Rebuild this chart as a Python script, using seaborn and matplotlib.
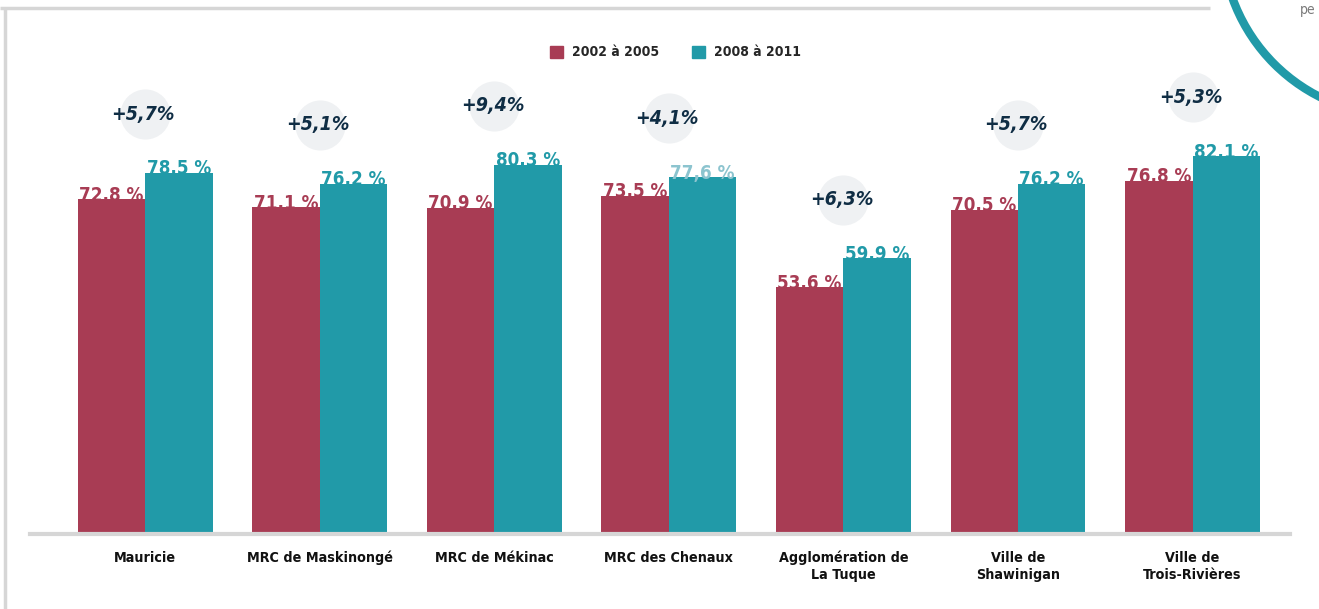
import numpy as np
import pandas as pd
import seaborn as sns
import matplotlib.pyplot as plt
from matplotlib.patches import Patch, Circle

# data
regions = ["Mauricie", "MRC de Maskinongé", "MRC de Mékinac", "MRC des Chenaux",
           "Agglomération de\nLa Tuque", "Ville de\nShawinigan", "Ville de\nTrois-Rivières"]
periods = ["2002 à 2005", "2008 à 2011"]
rate_2002_2005 = [72.8, 71.1, 70.9, 73.5, 53.6, 70.5, 76.8]
rate_2008_2011 = [78.5, 76.2, 80.3, 77.6, 59.9, 76.2, 82.1]
changes = ["+5,7%", "+5,1%", "+9,4%", "+4,1%", "+6,3%", "+5,7%", "+5,3%"]

red = "#a83c54"
teal = "#219aa8"
navy = "#0f2d44"

df = pd.DataFrame({
    "region": regions * 2,
    "periode": [periods[0]] * len(regions) + [periods[1]] * len(regions),
    "taux": rate_2002_2005 + rate_2008_2011,
})

sns.set_theme(style="white")
plt.rcParams['font.family'] = ['DejaVu Sans']
plt.rcParams['font.stretch'] = 'condensed'

fig = plt.figure(figsize=(13.19, 6.09), dpi=100)

# background decorations (frame lines, teal arc)
bg = fig.add_axes([0, 0, 1, 1], zorder=0)
bg.set_xlim(0, 1319)
bg.set_ylim(609, 0)
bg.axis("off")
bg.plot([0, 1210], [8, 8], color="#d6d6d6", lw=2.5, solid_capstyle="butt")
bg.plot([5, 5], [8, 609], color="#d6d6d6", lw=2.5, solid_capstyle="butt")
bg.add_patch(Circle((1400, -62), 178, fill=False, ec=teal, lw=6))
bg.text(1300, 10, "pe", color="#7a7a7a", fontsize=10, va="center")

ax = fig.add_axes([30 / 1319, 75 / 609, 1260 / 1319, 494 / 609], zorder=1)
ax.patch.set_alpha(0)
sns.barplot(data=df, x="region", y="taux", hue="periode", palette=[red, teal],
            saturation=1, width=0.773, gap=0, ax=ax, legend=False, linewidth=0)

ax.set_xlim(-0.659, 6.558)
ax.set_ylim(0, 107.4)
ax.set_xlabel("")
ax.set_ylabel("")
ax.set_yticks([])
for s in ["top", "right", "left"]:
    ax.spines[s].set_visible(False)
ax.spines["bottom"].set_color("#d6d6d6")
ax.spines["bottom"].set_linewidth(3)
ax.tick_params(axis="x", length=0, pad=12)
for lbl in ax.get_xticklabels():
    lbl.set_fontweight("bold")
    lbl.set_fontsize(10.3)
    lbl.set_color("#111111")
    lbl.set_linespacing(1.3)

# value labels
label_colors = [red, teal]
for k, cont in enumerate(ax.containers):
    vals = rate_2002_2005 if k == 0 else rate_2008_2011
    texts = ax.bar_label(cont, labels=[f"{v:.1f} %".replace(".", ",") for v in vals],
                         padding=-4, fontsize=13.5, fontweight="bold", color=label_colors[k])
    if k == 1:
        texts[3].set_color("#8cc4cf")

# change badges
for i, (v, txt) in enumerate(zip(rate_2008_2011, changes)):
    y_badge = v + 12.8
    ax.scatter([i], [y_badge], s=1300, color="#eff1f3", zorder=3, linewidths=0)
    ax.text(i - 0.01, y_badge, txt, ha="center", va="center", fontsize=14,
            fontweight="bold", fontstyle="italic", color=navy, zorder=4)

handles = [Patch(color=red), Patch(color=teal)]
fig.legend(handles, periods, ncol=2, loc="center", bbox_to_anchor=(0.512, 0.914),
           frameon=False, handlelength=0.95, handleheight=0.95, columnspacing=2.4,
           handletextpad=0.6, prop={"weight": "bold", "size": 10})

fig.savefig("out.png", dpi=100)
